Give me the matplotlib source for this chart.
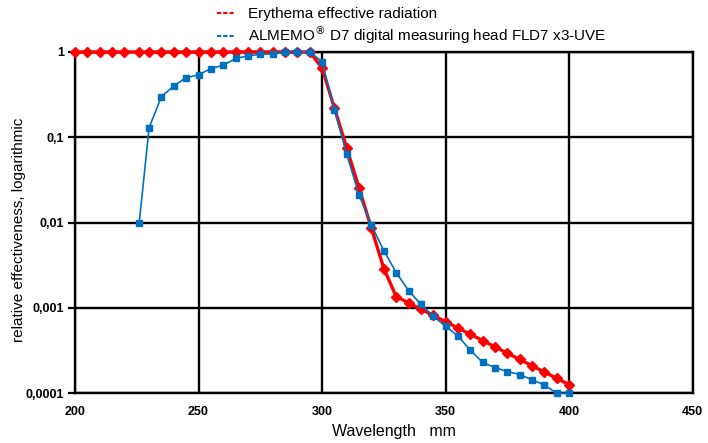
import matplotlib
matplotlib.use('Agg')
import matplotlib.pyplot as plt
from matplotlib.lines import Line2D

plt.rcParams['font.family'] = ['Liberation Sans', 'DejaVu Sans']

# erythema effective radiation (red)
ery_wl = [200, 205, 210, 215, 220, 226, 230, 235, 240, 245, 250, 255, 260, 265, 270, 275, 280,
          285, 290, 295, 300, 305, 310, 315, 320, 325, 330, 335, 340, 345, 350, 355, 360,
          365, 370, 375, 380, 385, 390, 395, 400]
ery_val = [1, 1, 1, 1, 1, 1, 1, 1, 1, 1, 1, 1, 1, 1, 1, 1, 1,
           1, 1, 1, 0.649, 0.22, 0.0745, 0.0252, 0.00855, 0.0029, 0.00136, 0.00115, 0.00097,
           0.000818, 0.00069, 0.000582, 0.000492, 0.000415, 0.00035, 0.000295, 0.000249,
           0.00021, 0.000177, 0.00015, 0.000126]

# ALMEMO D7 FLD7 x3-UVE (blue)
fld_wl = [226, 230, 235, 240, 245, 250, 255, 260, 265, 270, 275, 280, 285, 290, 295,
          300, 305, 310, 315, 320, 325, 330, 335, 340, 345, 350, 355, 360, 365, 370,
          375, 380, 385, 390, 395, 400]
fld_val = [0.01, 0.13, 0.30, 0.40, 0.50, 0.54, 0.64, 0.70, 0.84, 0.90, 0.94, 0.95, 1, 1, 1,
           0.77, 0.21, 0.063, 0.021, 0.0093, 0.0047, 0.0026, 0.0016, 0.0011, 0.0008, 0.00061,
           0.00047, 0.00032, 0.00023, 0.0002, 0.00018, 0.000166, 0.000144, 0.000125, 0.0001,
           0.0001]

yticks = [1, 0.1, 0.01, 0.001, 0.0001]
ylabels = ['1', '0,1', '0,01', '0,001', '0,0001']
xticks = [200, 250, 300, 350, 400, 450]

red = '#FF0000'
blue = '#0070C0'

fig = plt.figure(figsize=(7.08, 4.43), dpi=100)
ax = fig.add_axes([75 / 708, 1 - 393.3 / 443, (692.7 - 75) / 708, (393.3 - 52) / 443])

ax.plot(ery_wl, ery_val, color=red, lw=2.4, marker='D', ms=4.7, zorder=3, clip_on=False)
ax.plot(fld_wl, fld_val, color=blue, lw=1.2, marker='s', ms=4.6, zorder=4, clip_on=False)

ax.set_yscale('log')
ax.set_xlim(200, 450)
ax.set_ylim(0.0001, 1)
ax.set_yticks(yticks)
ax.set_yticklabels(ylabels)
ax.minorticks_off()
ax.set_xticks(xticks)
ax.set_xticklabels([str(x) for x in xticks])
for lab in ax.get_xticklabels() + ax.get_yticklabels():
    lab.set_fontweight('bold')
    lab.set_fontsize(9)
ax.tick_params(axis='x', length=0, pad=9)
ax.tick_params(axis='y', length=5, width=1.6, direction='out', pad=3)

ax.grid(True, color='black', lw=1.7)
for s in ax.spines.values():
    s.set_linewidth(1.7)
ax.set_axisbelow(True)

ax.set_xlabel('Wavelength   mm', fontsize=11.5)
ax.xaxis.set_label_coords(0.516, -0.09)
ax.set_ylabel('relative effectiveness, logarithmic', fontsize=11)
ax.yaxis.set_label_coords(-0.079, 0.478)

handles = [Line2D([], [], color=red, lw=1.5, ls=(0, (2, 1))),
           Line2D([], [], color=blue, lw=1.5, ls=(0, (2, 1)))]
fig.legend(handles, ['Erythema effective radiation',
                     'ALMEMO$^{\\circledR}$ D7 digital measuring head FLD7 x3-UVE'],
           loc='upper left', bbox_to_anchor=(208 / 708, 1.005), frameon=False,
           fontsize=11, handlelength=1.1, handletextpad=0.9, labelspacing=0.2,
           borderpad=0.1)

fig.savefig('out.png', dpi=100)
